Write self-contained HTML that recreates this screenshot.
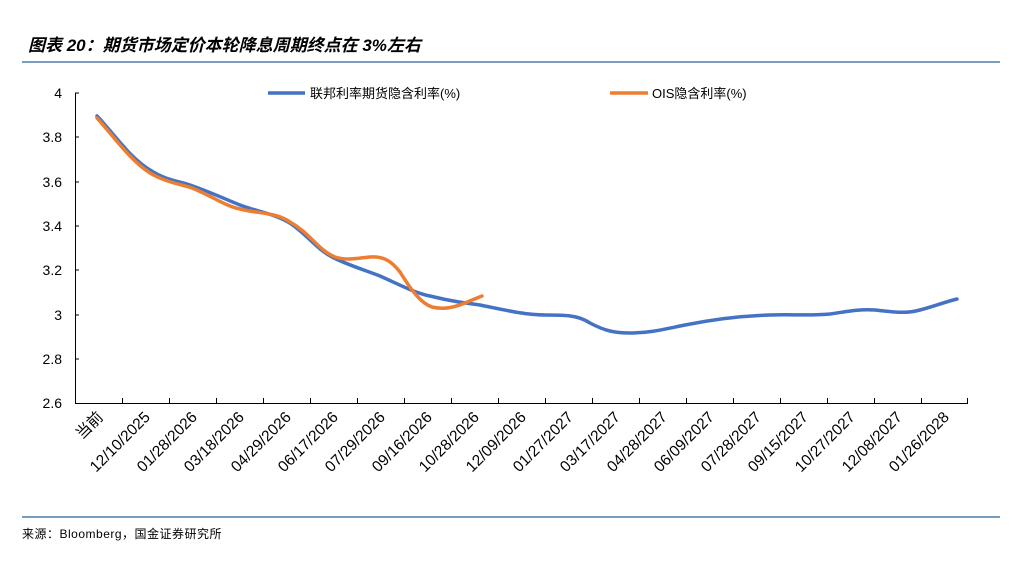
<!DOCTYPE html>
<html><head><meta charset="utf-8"><style>
body{margin:0;background:#fff;width:1024px;height:577px;overflow:hidden;font-family:"Liberation Sans","Noto Sans CJK SC",sans-serif}
</style></head><body>
<svg width="1024" height="577" xmlns="http://www.w3.org/2000/svg" font-family="Liberation Sans, Noto Sans CJK SC, sans-serif">
<text x="28" y="51" font-size="17" font-weight="bold" font-style="italic" fill="#000">图表 20：期货市场定价本轮降息周期终点在 3%左右</text>
<line x1="22" y1="62" x2="1000" y2="62" stroke="#4a7ea8" stroke-width="1.5"/>
<line x1="22" y1="517" x2="1000" y2="517" stroke="#4a7ea8" stroke-width="1.5"/>
<text x="22" y="538" font-size="12" fill="#000" letter-spacing="0.5">来源：Bloomberg，国金证券研究所</text>
<g font-size="14" fill="#000" text-anchor="end">
<text x="62" y="98">4</text><text x="62" y="142">3.8</text><text x="62" y="187">3.6</text><text x="62" y="231">3.4</text><text x="62" y="275">3.2</text><text x="62" y="320">3</text><text x="62" y="364">2.8</text><text x="62" y="408">2.6</text>
</g>
<g stroke="#000" stroke-width="1">
<line x1="75.5" y1="93" x2="75.5" y2="403"/><line x1="75" y1="93" x2="79" y2="93"/>
<line x1="75" y1="137" x2="79" y2="137"/><line x1="75" y1="182" x2="79" y2="182"/><line x1="75" y1="226" x2="79" y2="226"/><line x1="75" y1="270" x2="79" y2="270"/><line x1="75" y1="315" x2="79" y2="315"/><line x1="75" y1="359" x2="79" y2="359"/>
<line x1="75" y1="403.5" x2="968" y2="403.5"/>
<path d="M122.5 398V403M169.5 398V403M216.5 398V403M263.5 398V403M310.5 398V403M357.5 398V403M404.5 398V403M451.5 398V403M498.5 398V403M545.5 398V403M592.5 398V403M639.5 398V403M686.5 398V403M733.5 398V403M780.5 398V403M827.5 398V403M874.5 398V403M921.5 398V403M967.5 398V403"/>
</g>
<g font-size="15.5" fill="#000" text-anchor="end">
<text transform="translate(104,418) rotate(-45)">当前</text>
<text transform="translate(151,418) rotate(-45)">12/10/2025</text>
<text transform="translate(198,418) rotate(-45)">01/28/2026</text>
<text transform="translate(245,418) rotate(-45)">03/18/2026</text>
<text transform="translate(292,418) rotate(-45)">04/29/2026</text>
<text transform="translate(339,418) rotate(-45)">06/17/2026</text>
<text transform="translate(386,418) rotate(-45)">07/29/2026</text>
<text transform="translate(433,418) rotate(-45)">09/16/2026</text>
<text transform="translate(480,418) rotate(-45)">10/28/2026</text>
<text transform="translate(527,418) rotate(-45)">12/09/2026</text>
<text transform="translate(574,418) rotate(-45)">01/27/2027</text>
<text transform="translate(621,418) rotate(-45)">03/17/2027</text>
<text transform="translate(668,418) rotate(-45)">04/28/2027</text>
<text transform="translate(715,418) rotate(-45)">06/09/2027</text>
<text transform="translate(762,418) rotate(-45)">07/28/2027</text>
<text transform="translate(809,418) rotate(-45)">09/15/2027</text>
<text transform="translate(856,418) rotate(-45)">10/27/2027</text>
<text transform="translate(903,418) rotate(-45)">12/08/2027</text>
<text transform="translate(950,418) rotate(-45)">01/26/2028</text>
</g>
<path fill="none" stroke="#4472c4" stroke-width="3.5" stroke-linejoin="round" stroke-linecap="round" d="M97 116 C115 135,130 158,150 170 C165 180,178 181,190 185 C210 192,225 199,240 205 C255 211,272 213,288 222 C305 232,315 248,332 257 C350 266,365 270,380 276 C400 285,415 293,430 296 C450 301,465 303,480 305 C505 310,525 315,545 315 C565 315,578 315,590 323 C605 331,615 333,630 333 C650 333,665 329,685 325 C710 320,740 316,770 315 C790 314,810 316,830 314 C850 311,860 309,875 310 C895 312,905 314,920 310 C935 306,945 302,957 299"/>
<path fill="none" stroke="#ed7d31" stroke-width="3.5" stroke-linejoin="round" stroke-linecap="round" d="M97 118 C115 138,130 160,150 173 C165 182,180 184,192 188 C212 196,225 206,240 209 C260 214,275 212,290 222 C310 233,318 250,335 257 C348 261,358 258,370 257 C385 256,392 262,400 272 C410 288,420 303,432 307 C445 310,455 307,465 303 C472 300,477 298,482 296"/>
<line x1="268" y1="93" x2="305" y2="93" stroke="#4472c4" stroke-width="3.5"/>
<text x="310" y="98" font-size="13">联邦利率期货隐含利率(%)</text>
<line x1="610" y1="93" x2="648" y2="93" stroke="#ed7d31" stroke-width="3.5"/>
<text x="652" y="98" font-size="13">OIS隐含利率(%)</text>
</svg>
</body></html>
